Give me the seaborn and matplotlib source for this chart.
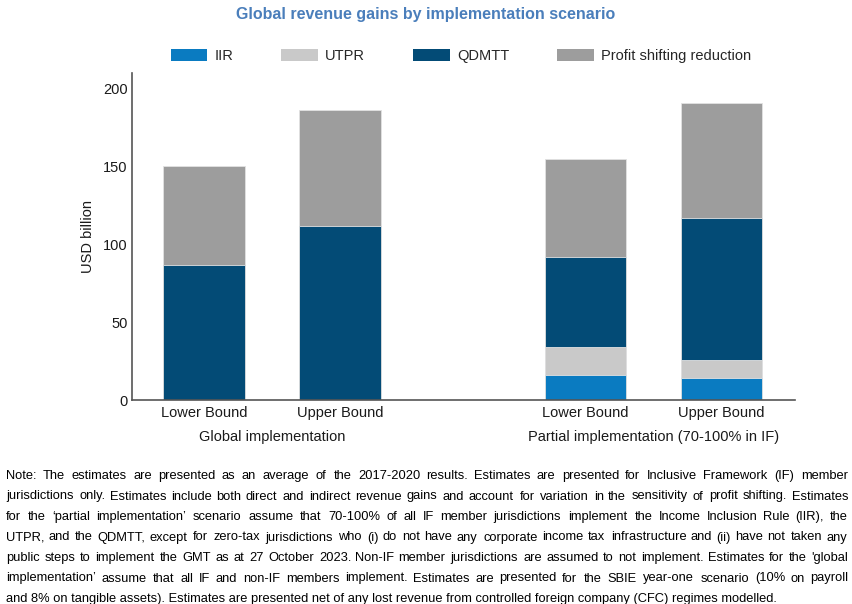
import numpy as np
import pandas as pd
import seaborn as sns
import matplotlib.pyplot as plt
from matplotlib.patches import Patch
from matplotlib.textpath import TextPath
from matplotlib.font_manager import FontProperties
from matplotlib import transforms

sns.set_style("white")
plt.rcParams['font.family'] = ['Liberation Sans', 'DejaVu Sans']

# Data (USD billion)
bounds = ['Lower Bound', 'Upper Bound', 'Lower Bound', 'Upper Bound']
groups = ['Global implementation', 'Partial implementation (70-100% in IF)']
positions = [0, 1, 2.8, 3.8]
iir = [0, 0, 16, 14]
utpr = [0, 0, 18, 12]
qdmtt = [87, 112, 58, 91]
psr = [63, 74, 63, 74]

series = ['IIR', 'UTPR', 'QDMTT', 'Profit shifting reduction']
colors = ['#0a7bc1', '#c9c9c9', '#034b76', '#9d9d9d']

note_lines = [
    "Note: The estimates are presented as an average of the 2017-2020 results. Estimates are presented for Inclusive Framework (IF) member",
    "jurisdictions only. Estimates include both direct and indirect revenue gains and account for variation in the sensitivity of profit shifting. Estimates",
    "for the \u2018partial implementation\u2019 scenario assume that 70-100% of all IF member jurisdictions implement the Income Inclusion Rule (IIR), the",
    "UTPR, and the QDMTT, except for zero-tax jurisdictions who (i) do not have any corporate income tax infrastructure and (ii) have not taken any",
    "public steps to implement the GMT as at 27 October 2023. Non-IF member jurisdictions are assumed to not implement. Estimates for the 'global",
    "implementation\u2019 assume that all IF and non-IF members implement. Estimates are presented for the SBIE year-one scenario (10% on payroll",
    "and 8% on tangible assets). Estimates are presented net of any lost revenue from controlled foreign company (CFC) regimes modelled.",
]

df = pd.DataFrame({'pos': positions, 'IIR': iir, 'UTPR': utpr,
                   'QDMTT': qdmtt, 'Profit shifting reduction': psr})
cum = df[series].cumsum(axis=1)

W, H = 853, 604
fig = plt.figure(figsize=(W / 100, H / 100), dpi=100)
ax = fig.add_axes([132 / W, 1 - 400 / H, (795 - 132) / W, (400 - 73) / H])

# stacked bars: draw the cumulative totals from the top layer down
for s, c in reversed(list(zip(series, colors))):
    sns.barplot(x=df['pos'], y=cum[s], native_scale=True, width=0.6,
                color=c, saturation=1, errorbar=None,
                edgecolor='#e2e2e2', linewidth=0.6, ax=ax)

ax.set_xlim(-0.53, 4.34)
ax.set_ylim(0, 210)
ax.set_yticks([0, 50, 100, 150, 200])
ax.set_xticks(positions, bounds)
ax.tick_params(axis='both', length=0, labelsize=10.5, colors='#1a1a1a', pad=3)
ax.tick_params(axis='x', pad=4)
ax.set_xlabel('')
ax.set_ylabel('USD billion', fontsize=10.5, color='#1a1a1a', labelpad=6)
for side in ['top', 'right']:
    ax.spines[side].set_visible(False)
for side in ['left', 'bottom']:
    ax.spines[side].set_color('#555555')
    ax.spines[side].set_linewidth(1.2)

trans = transforms.blended_transform_factory(ax.transData, ax.transAxes)
ax.text(np.mean(positions[:2]), -0.113, groups[0], transform=trans,
        ha='center', va='center', fontsize=10.5, color='#1a1a1a')
ax.text(np.mean(positions[2:]), -0.113, groups[1], transform=trans,
        ha='center', va='center', fontsize=10.5, color='#1a1a1a')

fig.text(426 / W, 1 - 14 / H, 'Global revenue gains by implementation scenario',
         ha='center', va='center', fontsize=11.5, fontweight='bold', color='#4a7ebb')

handles = [Patch(facecolor=c, edgecolor='none') for c in colors]
fig.legend(handles, series, loc='center', bbox_to_anchor=(461 / W, 1 - 56 / H),
           ncol=4, frameon=False, fontsize=10.5, handlelength=2.5,
           handleheight=0.9, handletextpad=0.5, columnspacing=3.3)

# note text, justified like the source
x0, x1 = 6, 847
note_fp = FontProperties(family='Liberation Sans')


def text_width(s, fs):
    # outline width in pixels (points -> px at 100 dpi)
    p = TextPath((0, 0), s, size=fs, prop=note_fp)
    return p.get_extents().width * 100 / 72


fs = 10
widest = max(text_width(l, fs) for l in note_lines)
fs = fs * (x1 - x0) * 0.975 / widest

for i, line in enumerate(note_lines):
    y = 1 - (476 + i * 20.5) / H
    if i == len(note_lines) - 1:
        fig.text(x0 / W, y, line, fontsize=fs, fontproperties=note_fp,
                 ha='left', va='center', color='#000000')
        continue
    words = line.split(' ')
    widths = [text_width(w, fs) for w in words]
    gap = (x1 - x0 - sum(widths)) / (len(words) - 1)
    x = x0
    for w, wd in zip(words, widths):
        fig.text(x / W, y, w, fontproperties=note_fp, fontsize=fs,
                 ha='left', va='center', color='#000000')
        x += wd + gap

fig.savefig('out.png', dpi=100)
